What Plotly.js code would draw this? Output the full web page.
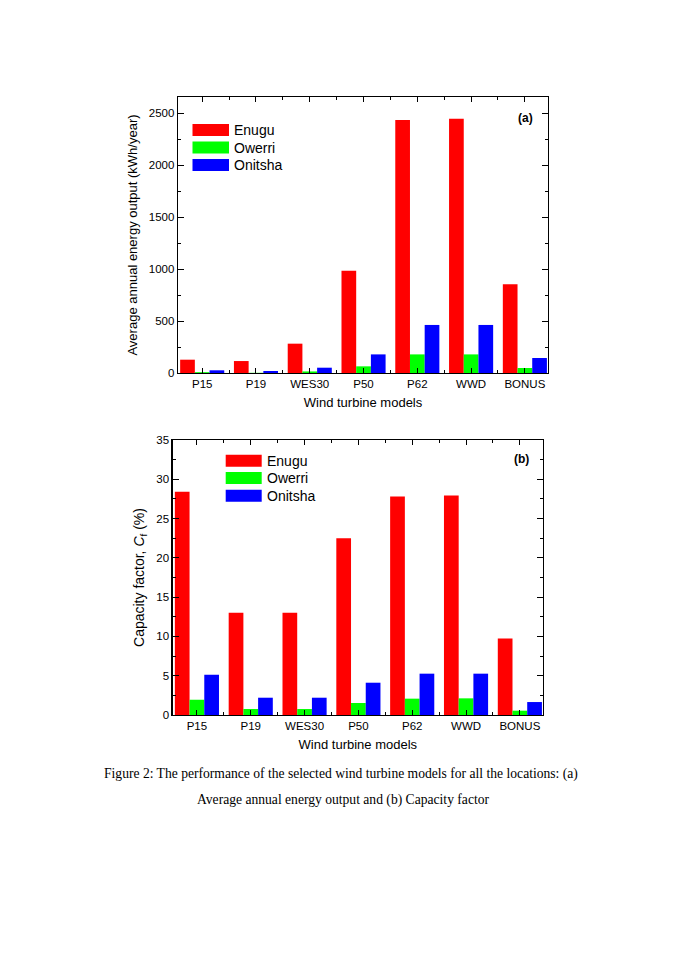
<!DOCTYPE html>
<html><head><meta charset="utf-8">
<script src="https://cdn.plot.ly/plotly-3.0.1.min.js"></script>
<style>html,body{margin:0;padding:0;background:#fff}#chart{width:685px;height:969px}</style>
</head><body><div id="chart"></div>
<script>
// ---- data ----
const models = ['P15','P19','WES30','P50','P62','WWD','BONUS'];
const locations = ['Enugu','Owerri','Onitsha'];
const colors = ['#ff0000','#00ff00','#0000ff'];
const energyEnugu   = [128, 115, 282, 984, 2433, 2446, 853];
const energyOwerri  = [8, 2, 15, 64, 179, 179, 48];
const energyOnitsha = [26, 19, 51, 179, 462, 462, 144];
const cfEnugu   = [28.4, 13.0, 13.0, 22.5, 27.8, 27.95, 9.75];
const cfOwerri  = [1.95, 0.76, 0.76, 1.53, 2.08, 2.12, 0.55];
const cfOnitsha = [5.13, 2.2, 2.2, 4.11, 5.26, 5.26, 1.65];
const energyTicks = [0, 500, 1000, 1500, 2000, 2500];
const cfTicks = [0, 5, 10, 15, 20, 25, 30, 35];

// ---- layout helpers ----
const W = 685, H = 969;
const px = v => v / W;
const py = v => 1 - v / H;
const idx = models.map((_, i) => i);
const FONT = 'Liberation Sans, Arial, sans-serif';

const energySeries = [energyEnugu, energyOwerri, energyOnitsha];
const cfSeries = [cfEnugu, cfOwerri, cfOnitsha];

const traces = [];
energySeries.forEach((vals, k) => traces.push({
  type: 'bar', x: idx, y: vals, name: locations[k], xaxis: 'x', yaxis: 'y',
  marker: {color: colors[k], line: {width: 0}}, showlegend: false, hoverinfo: 'x+y'
}));
cfSeries.forEach((vals, k) => traces.push({
  type: 'bar', x: idx, y: vals, name: locations[k], xaxis: 'x2', yaxis: 'y2',
  marker: {color: colors[k], line: {width: 0}}, showlegend: false, hoverinfo: 'x+y'
}));

function xAxis(domain, anchor) {
  return {
    domain: domain, anchor: anchor, range: [-0.45, 6.43],
    tickmode: 'array', tickvals: idx, ticktext: models,
    ticks: 'inside', ticklen: 5, tickwidth: 1, tickcolor: '#000',
    minor: {ticks: 'inside', ticklen: 3, tickwidth: 1, tickcolor: '#000', tick0: 0.5, dtick: 1, showgrid: false},
    showline: true, linecolor: '#000', linewidth: 1.3, mirror: 'allticks',
    showgrid: false, zeroline: false,
    tickfont: {family: FONT, size: 11.5, color: '#000'},
    title: {text: 'Wind turbine models', font: {family: FONT, size: 13, color: '#000'}, standoff: 8}
  };
}
function yAxis(domain, anchor, range, ticks, minorStep, title, tsize) {
  return {
    domain: domain, anchor: anchor, range: range,
    tickmode: 'array', tickvals: ticks,
    ticks: 'inside', ticklen: 6, tickwidth: 1, tickcolor: '#000',
    minor: {ticks: 'inside', ticklen: 3, tickwidth: 1, tickcolor: '#000', tick0: 0, dtick: minorStep, showgrid: false},
    showline: true, linecolor: '#000', linewidth: 1.3, mirror: 'allticks',
    showgrid: false, zeroline: false,
    tickfont: {family: FONT, size: 11.5, color: '#000'},
    title: {text: title, font: {family: FONT, size: tsize, color: '#000'}, standoff: 8}
  };
}

const shapes = [], annotations = [];
function legend(x0, x1, rows, textX) {
  locations.forEach((name, k) => {
    shapes.push({type: 'rect', xref: 'paper', yref: 'paper',
      x0: px(x0), x1: px(x1), y0: py(rows[k] + 6), y1: py(rows[k] - 6),
      fillcolor: colors[k], line: {width: 0}});
    annotations.push({xref: 'paper', yref: 'paper', x: px(textX), y: py(rows[k]),
      xanchor: 'left', yanchor: 'middle', showarrow: false, text: name,
      font: {family: FONT, size: 14, color: '#000'}});
  });
}
legend(192.5, 229, [130, 147.5, 165], 232);
legend(225.7, 261.7, [460.7, 478, 495.7], 265);

annotations.push({xref: 'paper', yref: 'paper', x: px(525), y: py(118), xanchor: 'center', yanchor: 'middle',
  showarrow: false, text: '<b>(a)</b>', font: {family: FONT, size: 12, color: '#000'}});
annotations.push({xref: 'paper', yref: 'paper', x: px(521), y: py(459), xanchor: 'center', yanchor: 'middle',
  showarrow: false, text: '<b>(b)</b>', font: {family: FONT, size: 12, color: '#000'}});

const SERIF = 'Liberation Serif, Times New Roman, serif';
annotations.push({xref: 'paper', yref: 'paper', x: px(341), y: py(774), xanchor: 'center', yanchor: 'middle',
  showarrow: false, text: 'Figure 2: The performance of the selected wind turbine models for all the locations: (a)',
  font: {family: SERIF, size: 13.6, color: '#000'}});
annotations.push({xref: 'paper', yref: 'paper', x: px(343), y: py(800), xanchor: 'center', yanchor: 'middle',
  showarrow: false, text: 'Average annual energy output and (b) Capacity factor',
  font: {family: SERIF, size: 13.6, color: '#000'}});

const layout = {
  width: W, height: H, margin: {l: 0, r: 0, t: 0, b: 0},
  paper_bgcolor: '#fff', plot_bgcolor: '#fff',
  barmode: 'group', bargap: 0.18, bargroupgap: 0,
  showlegend: false,
  font: {family: FONT, color: '#000'},
  xaxis: xAxis([px(178), px(548)], 'y'),
  yaxis: yAxis([py(373), py(97)], 'x', [0, 2654], energyTicks, 250, 'Average annual energy output (kWh/year)', 13),
  xaxis2: xAxis([px(172.7), px(543)], 'y2'),
  yaxis2: yAxis([py(715), py(440)], 'x2', [0, 35], cfTicks, 2.5, 'Capacity factor, <i>C</i><sub>f</sub> (%)', 14),
  shapes: shapes, annotations: annotations
};

Plotly.newPlot('chart', traces, layout, {displayModeBar: false, staticPlot: true});
</script></body></html>
